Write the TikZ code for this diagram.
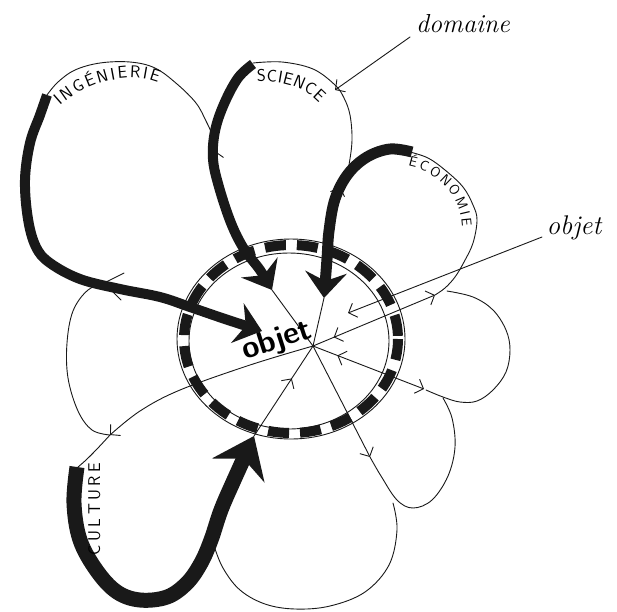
\documentclass[tikz,border=0pt]{standalone}
\usepackage{fontspec}
\usetikzlibrary{arrows.meta,decorations.markings,decorations.text}
\definecolor{ink}{RGB}{25,25,25}
\newcommand\lblfont{\sffamily\fontsize{17}{17}\selectfont}
\newcommand\lblsmall{\sffamily\fontsize{14}{14}\selectfont}
\tikzset{
  petal/.style={draw=ink, line width=0.9pt, line cap=round, line join=round},
  heavy/.style={draw=ink, line width=10pt, line join=round},
  hb/.tip={Straight Barb[length=7pt,width=15pt,line width=0.9pt]},
  bigtip/.tip={Stealth[length=26pt,width=42pt,inset=9pt,line width=0pt]},
  hugetip/.tip={Stealth[length=38pt,width=58pt,inset=13pt,line width=0pt]},
  inarrow/.style={postaction={decorate},decoration={markings,mark=at position #1 with {\arrowreversed{hb}}}},
  curvelabel/.style={decorate,decoration={text along path,text={|\lblfont|#1},text align={fit to path}}},
  curvelabelsmall/.style={decorate,decoration={text along path,text={|\lblsmall|#1},text align={fit to path}}}
}
\begin{document}
\begin{tikzpicture}[x=1pt,y=-1pt]
\useasboundingbox (0,0) rectangle (617,611);
\fill[white] (0,0) rectangle (617,611);

% key points
\coordinate (c) at (313,346);
\coordinate (e1) at (435,295);
\coordinate (e2) at (424,389);
\coordinate (e3) at (370,457);
\coordinate (e4) at (110,435);
\coordinate (sciTip) at (272,290);
\coordinate (ecoTip) at (324,298);
\coordinate (culTip) at (254,436);
\coordinate (ringC) at (291,339);
\coordinate (ringI) at (289,341);

% petal outlines (thin)
\draw[petal] plot[smooth,tension=0.6] coordinates {(214,150) (212,135) (206,121) (196,103) (177,84) (155,68) (130,62) (100,63) (75,70) (58,82) (47,95)};
\draw[petal] plot[smooth,tension=0.6] coordinates {(345,185) (349,165) (352,140) (350,115) (344,98) (335,85) (313,69) (282,62) (253,63)};
\draw[petal] plot[smooth,tension=0.6] coordinates {(e1) (445,288) (455,277) (464,262) (473,243) (477,220) (473,205) (463,187) (445,170) (428,158) (410,152)};
\draw[petal] plot[smooth,tension=0.6] coordinates {(447,291) (473,297) (493,310) (506,330) (510,350) (506,372) (493,390) (477,401) (460,402) (443,397) (426,390)};
\draw[petal] plot[smooth,tension=0.6] coordinates {(443,398) (452,418) (455,447) (448,476) (432,500) (413,508) (397,500) (381,476) (e3)};
\draw[petal] plot[smooth,tension=0.6] coordinates {(393,503) (397,530) (389,565) (365,592) (330,606) (295,609) (265,604) (240,590) (223,568) (213,543) (210,532)};
\draw[petal] plot[smooth,tension=0.6] coordinates {(e4) (92,430) (78,411) (68,378) (67,343) (73,311) (88,290) (108,281) (124,273)};
\draw[petal] (108,287) -- (121,300);
\draw[petal] plot[smooth,tension=0.6] coordinates {(e4) (97,449) (86,460) (78,467)};

% spokes from the centre
\draw[petal,-{hb},inarrow=0.17] (c) -- (e1);
\draw[petal,-{hb},inarrow=0.22] (c) -- (e2);
\draw[petal,-{hb}] (c) -- (e3);
\draw[petal,-{hb}] plot[smooth,tension=0.6] coordinates {(c) (250,365) (180,390) (140,411) (e4)};
\draw[petal] (c) -- (sciTip);
\draw[petal] (c) -- (ecoTip);
\draw[petal,inarrow=0.36] (c) -- (culTip);

% ring
\draw[petal] (ringC) ellipse [x radius=114, y radius=100];
\draw[petal] (ringI) ellipse [x radius=100, y radius=88];
\draw[ink, line width=10pt, dash pattern=on 21pt off 11pt] (ringC) ellipse [x radius=107, y radius=94];

% heavy arrows
\draw[heavy,-{bigtip}] plot[smooth,tension=0.6] coordinates {(47,95) (40,115) (30,143) (25,180) (28,219) (36,247) (50,263) (80,279) (120,289) (160,297) (190,307) (225,319) (262,331)};
\draw[heavy,-{bigtip}] plot[smooth,tension=0.6] coordinates {(253,64) (238,78) (224,104) (215,131) (213,159) (219,187) (231,223) (244,249) (260,270) (sciTip)};
\draw[heavy,line width=11pt,-{bigtip}] plot[smooth,tension=0.6] coordinates {(412,152) (390,149) (367,157) (348,174) (335,199) (329,231) (327,259) (ecoTip)};
\draw[heavy,line width=15pt,-{hugetip}] plot[smooth,tension=0.6] coordinates {(77,467) (74,503) (80,540) (97,571) (117,592) (140,600) (167,597) (187,583) (201,563) (211,540) (221,510) (234,480) (culTip)};

% small barbs over the heavy strokes
\draw[petal,-{hb}] (218,172) -- (215,151);
\draw[petal,-{hb}] (333,207) -- (340,187);

% curved labels
\path[curvelabel={INGÉNIERIE}] (60,106) .. controls (84,84) and (126,70) .. (158,83);
\path[curvelabel={SCIENCE}] (257,82) .. controls (281,80) and (306,88) .. (319,103);
\path[curvelabelsmall={ÉCONOMIE}] (408,166) .. controls (438,172) and (461,196) .. (462,227);
\path[curvelabel={CULTURE}] (100,555) -- (100,463);

% text labels
\node[font=\sffamily\bfseries\fontsize{31}{31}\selectfont\addfontfeature{LetterSpace=18}, rotate=18] (obj) at (277,341) {objet};
\node[font=\itshape\fontsize{26}{26}\selectfont] (dom) at (463,24) {domaine};
\node[font=\itshape\fontsize{27}{27}\selectfont] (objL) at (574,228) {objet};
\coordinate (domS) at (410,37);
\coordinate (domT) at (335,90);
\coordinate (objS) at (542,237);
\coordinate (objT) at (348,313);
\draw[petal,-{hb}] (domS) -- (domT);
\draw[petal,-{hb}] (objS) -- (objT);
\end{tikzpicture}
\end{document}
